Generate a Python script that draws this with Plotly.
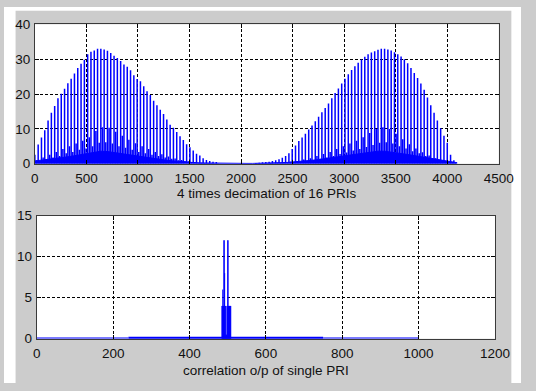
import plotly.graph_objects as go

# ---------------- data ----------------
# Upper panel: decimated return of 16 PRIs, one strong sample per PRI (every 32 samples)
pri_step = 32
hump1_start = 0
hump1_peaks = [2.6, 5.5, 7.5, 9.6, 12.4, 14.6, 16.6, 18.8, 20.1, 21.5,
               23.1, 24.4, 25.9, 27.5, 28.7, 29.8, 31.4, 32.1, 32.5, 33.0,
               33.0, 32.8, 32.4, 31.8, 31.0, 30.3, 29.5, 28.5, 27.8, 26.8,
               25.4, 24.3, 23.7, 22.2, 20.8, 19.7, 18.1, 16.8, 15.5, 14.3,
               12.7, 11.2, 10.3, 9.1, 7.9, 6.8, 5.6, 4.7, 3.8, 2.9,
               2.4, 1.6, 1.1, 0.8, 0.6, 0.5]
hump1_side = [1.0, 0.8, 1.8, 1.2, 2.6, 1.8, 3.4, 2.2, 4.2, 3.0,
              5.0, 3.4, 5.8, 4.0, 6.6, 4.4, 7.6, 5.0, 9.4, 6.0,
              10.5, 6.2, 10.3, 5.8, 9.2, 5.0, 8.0, 4.6, 6.9, 4.0,
              5.9, 3.4, 5.0, 3.0, 4.2, 2.6, 3.4, 2.2, 2.7, 1.8,
              2.1, 1.4, 1.5, 1.0, 1.1, 0.8, 0.7, 0.5, 0.5, 0.3,
              0.3, 0.2, 0.2, 0.15, 0.1, 0.1]

hump2_start = 2144
hump2_peaks = [0.2, 0.3, 0.4, 0.5, 0.6, 0.8, 1.0, 1.3, 1.7, 2.2,
               3.0, 4.2, 5.2, 6.5, 7.5, 8.6, 9.8, 11.0, 12.2, 13.5,
               14.8, 16.0, 17.3, 18.8, 20.3, 21.6, 23.0, 24.4, 25.7, 26.9,
               28.0, 29.0, 29.9, 30.7, 31.4, 31.9, 32.3, 32.7, 33.0, 33.0,
               32.8, 32.5, 32.0, 31.4, 30.8, 30.0, 28.8, 27.5, 26.0, 24.6,
               23.0, 21.2, 19.0, 16.8, 14.6, 12.4, 10.2, 8.0, 6.0, 2.6,
               1.0]
hump2_side = [0.05, 0.1, 0.1, 0.1, 0.2, 0.15, 0.3, 0.2, 0.4, 0.3,
              0.6, 0.4, 0.8, 0.6, 1.2, 0.8, 1.6, 1.1, 2.2, 1.4,
              2.8, 1.8, 3.4, 2.2, 4.2, 2.8, 5.0, 3.2, 5.8, 3.8,
              6.6, 4.2, 7.6, 4.8, 8.8, 5.4, 10.0, 6.0, 10.5, 6.2,
              10.0, 5.8, 8.6, 5.0, 7.0, 4.4, 5.6, 3.6, 4.4, 3.0,
              3.3, 2.2, 2.4, 1.6, 1.6, 1.0, 1.0, 0.6, 0.6, 0.3,
              0.2]

# dense low-level residue, sampled every 64 samples
floor_step = 64
floor_level = [0.8, 1.0, 1.2, 1.4, 1.7, 2.0, 2.3, 2.6, 3.0, 3.4,
               3.6, 3.5, 3.2, 2.9, 2.6, 2.3, 2.0, 1.7, 1.4, 1.2,
               1.0, 0.8, 0.6, 0.45, 0.35, 0.25, 0.2, 0.15, 0.1, 0.1,
               0.1, 0.1, 0.1, 0.1, 0.12, 0.15, 0.2, 0.25, 0.35, 0.5,
               0.6, 0.8, 1.0, 1.2, 1.4, 1.7, 2.0, 2.3, 2.6, 2.9,
               3.2, 3.4, 3.6, 3.6, 3.4, 3.1, 2.8, 2.5, 2.2, 1.9,
               1.6, 1.3, 1.0, 0.7, 0.3]

# Lower panel: correlation output of a single PRI
corr_idx = [485, 486, 487, 488, 489, 490, 491, 492, 493, 494, 495, 496, 497,
            498, 499, 500, 501, 502, 503, 504, 505, 506, 507, 508]
corr_val = [4, 4, 6, 4, 4, 12, 12, 8, 4, 4, 0.5, 0.3, 0.5,
            4, 4, 12, 12, 4, 4, 4, 4, 4, 4, 4]
# baseline segments: (start, end, level)
corr_base_light = [(0, 240, 0.06), (750, 1000, 0.06)]
corr_base_dark = [(240, 750, 0.1)]

top_xticks = [0, 500, 1000, 1500, 2000, 2500, 3000, 3500, 4000, 4500]
top_yticks = [0, 10, 20, 30, 40]
bot_xticks = [0, 200, 400, 600, 800, 1000, 1200]
bot_yticks = [0, 5, 10, 15]

top_xlabel = "4 times decimation of 16 PRIs"
bot_xlabel = "correlation o/p of single PRI"


def stems(xs, ys):
    sx, sy = [], []
    for x, y in zip(xs, ys):
        sx += [x, x, None]
        sy += [0, y, None]
    return sx, sy


def segments(segs):
    sx, sy = [], []
    for a, b, lvl in segs:
        sx += [a, b, None]
        sy += [lvl, lvl, None]
    return sx, sy


BLUE = "#0000ff"
fig = go.Figure()

# residue floor
fx = [i * floor_step for i in range(len(floor_level))]
fig.add_trace(go.Scatter(x=fx, y=floor_level, mode="lines", fill="tozeroy",
                         fillcolor=BLUE, line=dict(color=BLUE, width=1),
                         xaxis="x", yaxis="y", hoverinfo="skip"))

# secondary spikes (half a PRI after the main one)
for start, side in ((hump1_start, hump1_side), (hump2_start, hump2_side)):
    xs = [start + pri_step * i + pri_step // 2 for i in range(len(side))]
    sx, sy = stems(xs, side)
    fig.add_trace(go.Scatter(x=sx, y=sy, mode="lines",
                             line=dict(color=BLUE, width=1.5),
                             xaxis="x", yaxis="y", hoverinfo="skip"))

# main PRI spikes
for start, peaks in ((hump1_start, hump1_peaks), (hump2_start, hump2_peaks)):
    xs = [start + pri_step * i for i in range(len(peaks))]
    sx, sy = stems(xs, peaks)
    fig.add_trace(go.Scatter(x=sx, y=sy, mode="lines",
                             line=dict(color=BLUE, width=1.5),
                             xaxis="x", yaxis="y", hoverinfo="skip"))

# lower panel
bx, by = segments(corr_base_light)
fig.add_trace(go.Scatter(x=bx, y=by, mode="lines",
                         line=dict(color="#5050ff", width=2),
                         xaxis="x2", yaxis="y2", hoverinfo="skip"))
bx, by = segments(corr_base_dark)
fig.add_trace(go.Scatter(x=bx, y=by, mode="lines",
                         line=dict(color=BLUE, width=2.5),
                         xaxis="x2", yaxis="y2", hoverinfo="skip"))
cx, cy = stems(corr_idx, corr_val)
fig.add_trace(go.Scatter(x=cx, y=cy, mode="lines",
                         line=dict(color=BLUE, width=1),
                         xaxis="x2", yaxis="y2", hoverinfo="skip"))

W, H = 536, 391
FONT = dict(family="Liberation Sans, Arial, sans-serif", size=13.5, color="#111111")

axis_common = dict(showline=True, linecolor="#3a3a3a", linewidth=1, mirror="ticks",
                   ticks="inside", ticklen=4, tickcolor="#000000",
                   showgrid=True, gridcolor="#000000", gridwidth=1, griddash="3px,2px",
                   zeroline=False, tickfont=FONT, fixedrange=True)

white_box = dict(type="rect", xref="paper", yref="paper",
                 fillcolor="#ffffff", line=dict(width=0), layer="below")

fig.update_layout(
    width=W, height=H,
    margin=dict(l=0, r=0, t=0, b=0),
    paper_bgcolor="#cccccc",
    plot_bgcolor="#ffffff",
    showlegend=False,
    xaxis=dict(domain=[32 / W, 513 / W], range=[0, 4500], tickvals=top_xticks,
               anchor="y", ticklabelstandoff=2, **axis_common),
    yaxis=dict(domain=[1 - 163 / H, 1 - 18 / H], range=[0, 40], tickvals=top_yticks,
               anchor="x", ticklabelstandoff=1, **axis_common),
    xaxis2=dict(domain=[34 / W, 509 / W], range=[0, 1200], tickvals=bot_xticks,
                anchor="y2", ticklabelstandoff=2, **axis_common),
    yaxis2=dict(domain=[1 - 345 / H, 1 - 217 / H], range=[0, 15], tickvals=bot_yticks,
                anchor="x2", ticklabelstandoff=1, **axis_common),
    shapes=[
        dict(white_box, x0=0, x1=12 / W, y0=0, y1=1),
        dict(white_box, x0=526 / W, x1=1, y0=0, y1=1),
        dict(white_box, x0=0, x1=1, y0=1 - 4 / H, y1=1),
    ],
    annotations=[
        dict(text=top_xlabel, xref="paper", yref="paper",
             x=(32 + 513) / 2 / W, y=1 - 194 / H, showarrow=False,
             xanchor="center", yanchor="middle", font=FONT),
        dict(text=bot_xlabel, xref="paper", yref="paper",
             x=(34 + 509) / 2 / W, y=1 - 378 / H, showarrow=False,
             xanchor="center", yanchor="middle", font=FONT),
    ],
)

fig.write_html("out.html")
